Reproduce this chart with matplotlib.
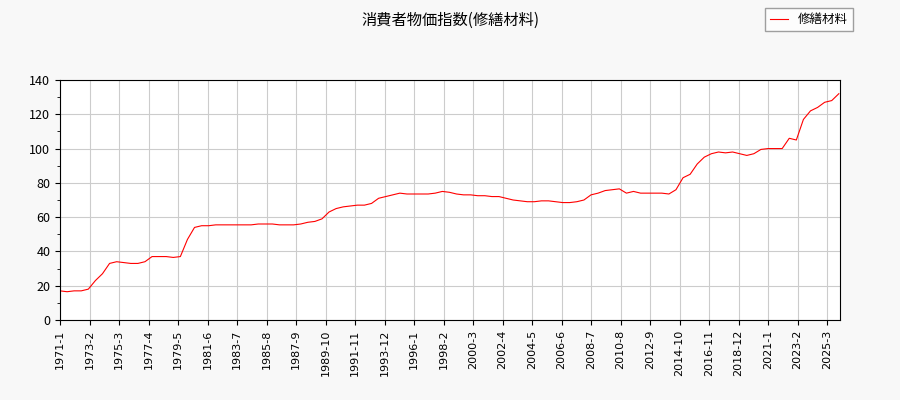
import numpy as np
import matplotlib.pyplot as plt

plt.rcParams['font.family'] = ['Noto Sans CJK JP', 'DejaVu Sans']

# values read roughly every 6 months (Jan / Jul), 1971-1 .. 2026-1
start_year = 1971
values = [17, 16.5, 17, 17, 18, 23, 27, 33, 34, 33.5, 33, 33, 34, 37, 37, 37,
          36.5, 37, 47, 54, 55, 55, 55.5, 55.5, 55.5, 55.5, 55.5, 55.5, 56, 56,
          56, 55.5, 55.5, 55.5, 56, 57, 57.5, 59, 63, 65, 66, 66.5, 67, 67,
          68, 71, 72, 73, 74, 73.5, 73.5, 73.5, 73.5, 74, 75, 74.5, 73.5, 73,
          73, 72.5, 72.5, 72, 72, 71, 70, 69.5, 69, 69, 69.5, 69.5, 69, 68.5,
          68.5, 69, 70, 73, 74, 75.5, 76, 76.5, 74, 75, 74, 74, 74, 74,
          73.5, 76, 83, 85, 91, 95, 97, 98, 97.5, 98, 97, 96, 97, 99.5,
          100, 100, 100, 106, 105, 117, 122, 124, 127, 128, 132]
months = np.arange(len(values)) * 6  # month index since 1971-1

n_months = months[-1] + 1
tick_pos = np.arange(0, n_months, 25)
tick_labels = [f"{start_year + p // 12}-{p % 12 + 1}" for p in tick_pos]

fig = plt.figure(figsize=(9, 4), dpi=100, facecolor='#f8f8f8')
ax = fig.add_axes([60 / 900, 80 / 400, 780 / 900, 240 / 400])
ax.plot(months, values, color='red', lw=0.8, label='修繕材料')
ax.set_xlim(0, n_months)
ax.set_ylim(0, 140)
ax.set_yticks(range(0, 141, 20))
ax.set_yticks(range(0, 141, 10), minor=True)
ax.set_xticks(tick_pos)
ax.set_xticklabels(tick_labels, rotation=90, fontsize=8, family='DejaVu Sans')
ax.tick_params(axis='y', labelsize=9)
ax.grid(True, color='#cccccc', lw=0.8)
fig.suptitle('消費者物価指数(修繕材料)', y=0.97, fontsize=11)
fig.legend(loc='upper right', bbox_to_anchor=(0.955, 0.995), fontsize=9,
           fancybox=False, edgecolor='#888888', handlelength=1.5)
fig.savefig('out.png')
